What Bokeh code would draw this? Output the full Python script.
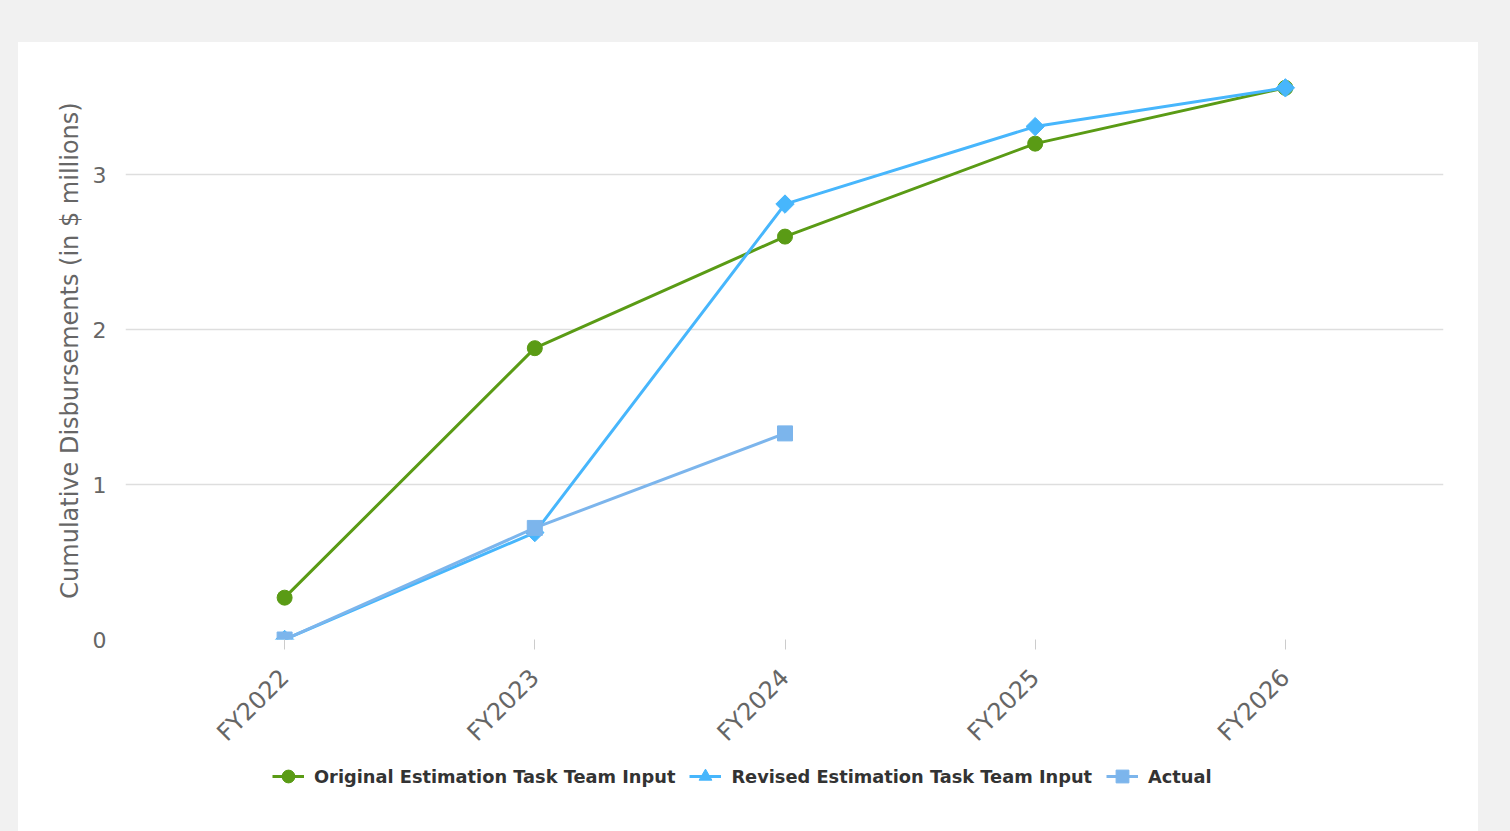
from math import pi
from bokeh.plotting import figure
from bokeh.models import (ColumnDataSource, FixedTicker, Range1d, Legend, LegendItem)
from bokeh.layouts import column
from bokeh.embed import file_html
from bokeh.resources import INLINE

# ---- data ----
categories = ["FY2022", "FY2023", "FY2024", "FY2025", "FY2026"]
original = [0.27, 1.88, 2.60, 3.20, 3.56]
revised = [0.0, 0.69, 2.81, 3.31, 3.56]
actual = [0.0, 0.72, 1.33]
y_ticks = [0, 1, 2, 3]
series_names = ["Original Estimation Task Team Input",
                "Revised Estimation Task Team Input",
                "Actual"]

x_idx = list(range(len(categories)))

GREEN = "#5a9b15"
BLUE = "#47b6fc"
LIGHT = "#7cb5ec"
FONT = "DejaVu Sans"
LW = 3

p = figure(width=1460, height=719, output_backend="svg", toolbar_location=None,
           x_range=Range1d(-0.636, len(categories) - 1 + 0.632),
           y_range=Range1d(0, 3.73),
           min_border_left=107, min_border_right=35, min_border_top=19,
           min_border_bottom=122)
p.outline_line_color = None
p.background_fill_color = "white"
p.border_fill_color = "white"

src_o = ColumnDataSource(dict(x=x_idx, y=original))
src_r = ColumnDataSource(dict(x=x_idx, y=revised))
src_a = ColumnDataSource(dict(x=x_idx[:len(actual)], y=actual))

p.line("x", "y", source=src_o, line_color=GREEN, line_width=LW)
p.scatter("x", "y", source=src_o, marker="circle", size=15,
          fill_color=GREEN, line_color=GREEN)
p.line("x", "y", source=src_r, line_color=BLUE, line_width=LW)
p.scatter("x", "y", source=src_r, marker="square", angle=pi / 4, size=13,
          fill_color=BLUE, line_color=BLUE)
p.line("x", "y", source=src_a, line_color=LIGHT, line_width=LW)
p.scatter("x", "y", source=src_a, marker="square", size=15,
          fill_color=LIGHT, line_color=LIGHT)

# axes
p.xaxis.ticker = FixedTicker(ticks=x_idx)
p.xaxis.major_label_overrides = {i: c for i, c in zip(x_idx, categories)}
p.xaxis.major_label_orientation = pi / 4
p.xaxis.axis_line_color = None
p.xaxis.major_tick_line_color = "#cccccc"
p.xaxis.major_tick_in = 0
p.xaxis.major_tick_out = 10
p.xaxis.minor_tick_line_color = None
p.xaxis.major_label_text_font = FONT
p.xaxis.major_label_text_font_size = "24px"
p.xaxis.major_label_text_color = "#666666"
p.xaxis.major_label_standoff = 24

p.yaxis.ticker = FixedTicker(ticks=y_ticks)
p.yaxis.axis_line_color = None
p.yaxis.major_tick_line_color = None
p.yaxis.minor_tick_line_color = None
p.yaxis.major_label_text_font = FONT
p.yaxis.major_label_text_font_size = "22px"
p.yaxis.major_label_text_color = "#666666"
p.yaxis.major_label_standoff = 13
p.yaxis.axis_label = "Cumulative Disbursements (in $ millions)"
p.yaxis.axis_label_text_font = FONT
p.yaxis.axis_label_text_font_size = "24px"
p.yaxis.axis_label_text_font_style = "normal"
p.yaxis.axis_label_text_color = "#666666"
p.yaxis.axis_label_standoff = 6

p.xgrid.grid_line_color = None
p.ygrid.ticker = FixedTicker(ticks=[t for t in y_ticks if t > 0])
p.ygrid.grid_line_color = "#dedede"
p.ygrid.grid_line_width = 1.5

# ---- legend strip (separate figure so the legend sits outside the data frame) ----
# its y range lies far from the data, so the proxy glyphs only show in the legend
lg = figure(width=1460, height=70, output_backend="svg", toolbar_location=None,
            x_range=Range1d(0, 1), y_range=Range1d(100, 101),
            min_border=0, min_border_left=0, min_border_right=0,
            min_border_top=0, min_border_bottom=0)
lg.axis.visible = False
lg.grid.visible = False
lg.outline_line_color = None
lg.background_fill_color = "white"
lg.border_fill_color = "white"

g_lo = lg.line("x", "y", source=src_o, line_color=GREEN, line_width=LW)
g_mo = lg.scatter("x", "y", source=src_o, marker="circle", size=15,
                  fill_color=GREEN, line_color=GREEN)
g_lr = lg.line("x", "y", source=src_r, line_color=BLUE, line_width=LW)
g_mr = lg.scatter("x", "y", source=src_r, marker="triangle", size=15,
                  fill_color=BLUE, line_color=BLUE)
g_la = lg.line("x", "y", source=src_a, line_color=LIGHT, line_width=LW)
g_ma = lg.scatter("x", "y", source=src_a, marker="square", size=15,
                  fill_color=LIGHT, line_color=LIGHT)

legend = Legend(items=[
    LegendItem(label=series_names[0], renderers=[g_lo, g_mo]),
    LegendItem(label=series_names[1], renderers=[g_lr, g_mr]),
    LegendItem(label=series_names[2], renderers=[g_la, g_ma]),
], orientation="horizontal", location=(147, 39))
legend.label_text_font = FONT
legend.label_text_font_style = "bold"
legend.label_text_font_size = "17.8px"
legend.label_text_color = "#333333"
legend.glyph_width = 32
legend.glyph_height = 32
legend.label_standoff = 10
legend.spacing = 14
legend.padding = 0
legend.margin = 0
legend.border_line_color = None
legend.background_fill_alpha = 0
lg.add_layout(legend, "center")

panel = column(p, lg, spacing=0, margin=(42, 32, 0, 18),
               styles={"background-color": "white"})
layout = column(panel, spacing=0, styles={"background-color": "#f1f1f1"})

open("out.html", "w").write(file_html(layout, INLINE))
